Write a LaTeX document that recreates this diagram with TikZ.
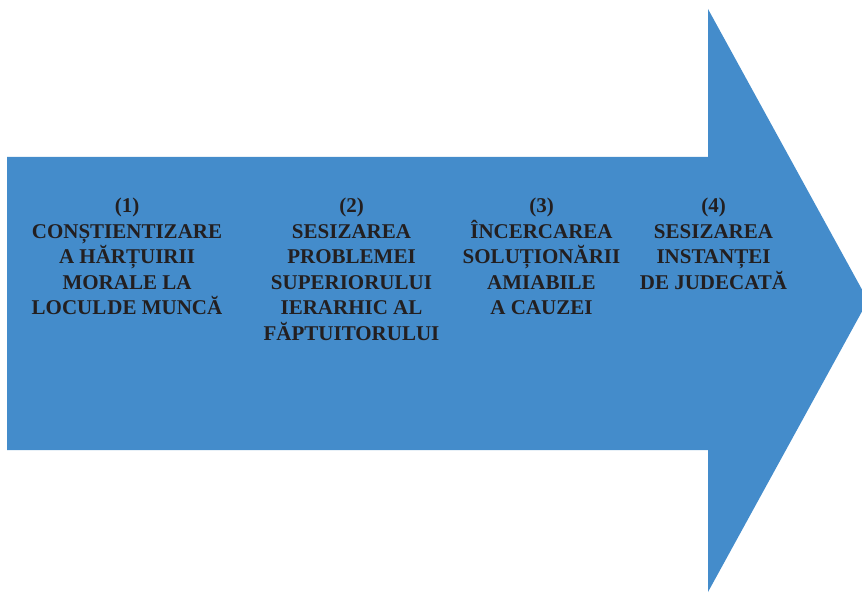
\documentclass[tikz,border=0pt]{standalone}
\usepackage{fontspec}
\setmainfont{Liberation Serif}
\definecolor{arrowblue}{HTML}{448CCB}
\definecolor{txt}{HTML}{231F20}
\begin{document}
\begin{tikzpicture}[x=1pt,y=-1pt,
  steplabel/.style={anchor=north,align=center,inner sep=0pt,text=txt,
    font=\fontsize{21}{25.5}\selectfont\bfseries}]
\useasboundingbox (0,0) rectangle (862,593);
\clip (0,0) rectangle (862,593);
\fill[arrowblue] (7,157) -- (708,157) -- (708,9) -- (868,300.5) -- (708,592) -- (708,450) -- (7,450) -- cycle;
\node[steplabel] (s1) at (127,198) {(1)\\CONȘTIENTIZARE\\A HĂRȚUIRII\\MORALE LA\\LOCUL\hspace{1pt}DE MUNCĂ};
\node[steplabel] (s2) at (351.5,198) {(2)\\SESIZAREA\\PROBLEMEI\\SUPERIORULUI\\IERARHIC AL\\FĂPTUITORULUI};
\node[steplabel] (s3) at (541.5,198) {(3)\\ÎNCERCAREA\\SOLUȚIONĂRII\\AMIABILE\\A CAUZEI};
\node[steplabel] (s4) at (713.5,198) {(4)\\SESIZAREA\\INSTANȚEI\\DE JUDECATĂ};
\end{tikzpicture}
\end{document}
